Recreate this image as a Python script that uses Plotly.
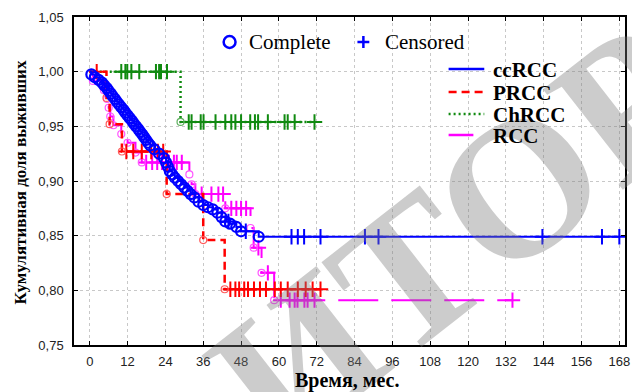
import plotly.graph_objects as go

# ---------------- data ----------------
x_tick_vals = [0, 12, 24, 36, 48, 60, 72, 84, 96, 108, 120, 132, 144, 156, 168]
y_tick_vals = [0.75, 0.80, 0.85, 0.90, 0.95, 1.00, 1.05]

group_names = ["ccRCC", "PRCC", "ChRCC", "RCC"]

# ccRCC
cc_event_t = [0.5, 1.6, 2.8, 3.9, 4.6, 5.4, 6.0, 6.7, 7.3, 8.0, 8.6, 9.3, 10.0, 10.7,
              11.3, 12.0, 12.7, 13.4, 14.0, 14.7, 15.4, 16.0, 16.7, 17.3, 17.9, 18.5,
              19.2, 20.5, 22.0, 23.5, 24.2, 24.8, 25.4, 26.2, 27.0, 28.0, 29.0, 30.0,
              31.0, 32.0, 33.2, 34.5, 36.0, 37.5, 39.0, 40.5, 41.8, 43.0, 44.5, 46.5,
              48.0, 53.6]
cc_event_s = [0.9975, 0.995, 0.9925, 0.990, 0.9875, 0.985, 0.9825, 0.980, 0.9775,
              0.975, 0.9725, 0.970, 0.9675, 0.965, 0.9625, 0.960, 0.9575, 0.955,
              0.9525, 0.950, 0.9475, 0.945, 0.9425, 0.940, 0.9375, 0.935, 0.9325,
              0.929, 0.925, 0.921, 0.917, 0.913, 0.909, 0.906, 0.903, 0.900, 0.897,
              0.894, 0.891, 0.888, 0.885, 0.881, 0.878, 0.876, 0.874, 0.871, 0.867,
              0.863, 0.861, 0.858, 0.854, 0.849]
cc_cens_t = [44.0, 49.5, 64.0, 66.0, 68.0, 73.2, 87.3, 91.6, 143.6, 162.5, 168.0]

# PRCC
pr_event_t = [5.3, 6.3, 10.2, 24.4, 36.0, 42.8]
pr_event_s = [0.976, 0.952, 0.927, 0.888, 0.846, 0.801]
pr_cens_t = [2.2, 11.6, 13.8, 16.5, 19.5, 21.6, 23.3, 44.6, 46.2, 47.4, 49.0, 50.2,
             52.1, 54.0, 55.9, 58.7, 60.6, 62.8, 66.0, 68.5, 70.7, 73.2]

# ChRCC
ch_event_t = [28.8]
ch_event_s = [0.954]
ch_cens_t = [10.0, 11.3, 11.9, 13.2, 15.7, 21.0, 22.0, 22.6, 24.5, 31.4, 32.3, 35.2,
             36.1, 39.9, 43.0, 44.9, 46.2, 48.0, 50.9, 52.4, 53.4, 56.5, 61.8, 62.8,
             65.0, 71.3]

# RCC
rc_event_t = [1.0, 4.5, 5.5, 6.0, 6.5, 7.5, 10.0, 12.0, 14.5, 16.5, 31.6, 32.3, 33.5,
              43.0, 51.0, 52.0, 54.5, 58.5]
rc_event_s = [0.9915, 0.983, 0.975, 0.967, 0.959, 0.951, 0.943, 0.935, 0.926, 0.917,
              0.906, 0.897, 0.888, 0.875, 0.857, 0.839, 0.816, 0.791]
rc_cens_t = [17.9, 19.8, 21.4, 22.9, 25.1, 26.7, 27.6, 29.2, 35.5, 38.6, 40.8, 42.3,
             44.9, 46.5, 48.0, 49.6, 53.5, 56.5, 60.6, 63.4, 65.0, 65.9, 68.1, 69.1,
             71.3, 134.1]

# ---------------- styling ----------------
W, H = 632, 392
ML, MR, MT, MB = 74, 2, 17, 47
PW, PH = W - ML - MR, H - MT - MB

BLUE = "#0000ff"
RED = "#ff0000"
GREEN = "#108a10"
MAGENTA = "#ff00ff"
SERIF = "Liberation Serif, Times New Roman, serif"
SANS = "Liberation Sans, Arial, sans-serif"


def px(xp):
    return (xp - ML) / PW


def py(yp):
    return (H - MB - yp) / PH


def surv_at(t, ev_t, ev_s):
    s = 1.0
    for et, es in zip(ev_t, ev_s):
        if et <= t:
            s = es
    return s


groups = [
    # name, ev_t, ev_s, cens_t, color, dash, width, circle size, circle line width, circle color
    ("RCC", rc_event_t, rc_event_s, rc_cens_t, MAGENTA, "40px,13px", 2, 7, 1.2, "#ff55ff"),
    ("ChRCC", ch_event_t, ch_event_s, ch_cens_t, GREEN, "2px,3px", 2.5, 7, 1.2, "#60b060"),
    ("PRCC", pr_event_t, pr_event_s, pr_cens_t, RED, "8px,5px", 2.5, 7, 1.2, "#ff5a5a"),
    ("ccRCC", cc_event_t, cc_event_s, cc_cens_t, BLUE, "solid", 2, 10, 2.2, BLUE),
]

fig = go.Figure()

for name, ev_t, ev_s, ce_t, col, dash, lw, csz, clw, ccol in groups:
    end_t = max(ce_t + ev_t)
    xs = [0.0] + list(ev_t) + [end_t]
    ys = [1.0] + list(ev_s) + [ev_s[-1]]
    fig.add_trace(go.Scatter(
        x=xs, y=ys, mode="lines", line=dict(color=col, width=lw, dash=dash, shape="hv"),
        name=name, showlegend=False, hoverinfo="skip"))
    fig.add_trace(go.Scatter(
        x=ce_t, y=[surv_at(t, ev_t, ev_s) for t in ce_t], mode="markers",
        marker=dict(symbol="cross-thin", size=11, color=col, line=dict(color=col, width=2)),
        showlegend=False, hoverinfo="skip"))
    fig.add_trace(go.Scatter(
        x=ev_t, y=ev_s, mode="markers",
        marker=dict(symbol="circle-open", size=csz, color=ccol, line=dict(color=ccol, width=clw)),
        showlegend=False, hoverinfo="skip"))

# ---------------- manual legends ----------------
shapes = []
annotations = []

# watermark (drawn first, under the legend texts)
annotations.append(dict(text="<b>ИТОР</b>", xref="paper", yref="paper",
                        x=px(458), y=py(236), textangle=-38, showarrow=False,
                        xanchor="center", yanchor="middle",
                        font=dict(family=SERIF, size=196, color="rgba(120,120,120,0.38)")))

# Complete / Censored legend
shapes.append(dict(type="circle", xref="paper", yref="paper",
                   x0=px(225), x1=px(237), y0=py(48), y1=py(36),
                   line=dict(color=BLUE, width=2.5)))
shapes.append(dict(type="line", xref="paper", yref="paper",
                   x0=px(360), x1=px(372), y0=py(42), y1=py(42),
                   line=dict(color=BLUE, width=2.5)))
shapes.append(dict(type="line", xref="paper", yref="paper",
                   x0=px(366), x1=px(366), y0=py(36), y1=py(48),
                   line=dict(color=BLUE, width=2.5)))
annotations.append(dict(text="Complete", xref="paper", yref="paper", x=px(249), y=py(42),
                        xanchor="left", yanchor="middle", showarrow=False,
                        font=dict(family=SERIF, size=21, color="black")))
annotations.append(dict(text="Censored", xref="paper", yref="paper", x=px(386), y=py(42),
                        xanchor="left", yanchor="middle", showarrow=False,
                        font=dict(family=SERIF, size=21, color="black")))

# line-style legend
legend_rows = [("ccRCC", BLUE, "solid", 69, 488), ("PRCC", RED, "8px,5px", 92, 488),
               ("ChRCC", GREEN, "2px,3px", 114, 488), ("RCC", MAGENTA, "solid", 135, 477)]
for label, col, dash, yy, xend in legend_rows:
    shapes.append(dict(type="line", xref="paper", yref="paper",
                       x0=px(452), x1=px(xend), y0=py(yy), y1=py(yy),
                       line=dict(color=col, width=2.5, dash=dash)))
    annotations.append(dict(text="<b>%s</b>" % label, xref="paper", yref="paper",
                            x=px(495), y=py(yy + 1), xanchor="left", yanchor="middle",
                            showarrow=False, font=dict(family=SERIF, size=21, color="black")))

# axis titles
annotations.append(dict(text="<b>Кумулятивная доля выживших</b>", xref="paper", yref="paper",
                        x=px(20), y=py(182), textangle=-90, showarrow=False,
                        xanchor="center", yanchor="middle",
                        font=dict(family=SERIF, size=17, color="black")))
annotations.append(dict(text="<b>Время, мес.</b>", xref="paper", yref="paper",
                        x=px(349), y=py(380), showarrow=False,
                        xanchor="center", yanchor="middle",
                        font=dict(family=SERIF, size=20, color="black")))

axis_common = dict(showline=True, linecolor="black", linewidth=1.5, mirror="ticks",
                   ticks="inside", ticklen=4, tickcolor="black", tickwidth=1,
                   showgrid=True, gridcolor="#c8c8c8", gridwidth=1, griddash="dot",
                   zeroline=False, ticklabeloverflow="allow",
                   tickfont=dict(family=SANS, size=13, color="#222"))

fig.update_layout(
    width=W, height=H, margin=dict(l=ML, r=MR, t=MT, b=MB),
    paper_bgcolor="white", plot_bgcolor="white",
    separators=", ",
    showlegend=False,
    xaxis=dict(range=[-5, 169.8], tickvals=x_tick_vals, ticklabelstandoff=4, **axis_common),
    yaxis=dict(range=[0.75, 1.05], tickvals=y_tick_vals, tickformat=".2f",
               ticklabelstandoff=6, **axis_common),
    shapes=shapes, annotations=annotations,
)

fig.write_html("out.html", config={"displayModeBar": False},
               post_script="document.body.style.margin='0';")
